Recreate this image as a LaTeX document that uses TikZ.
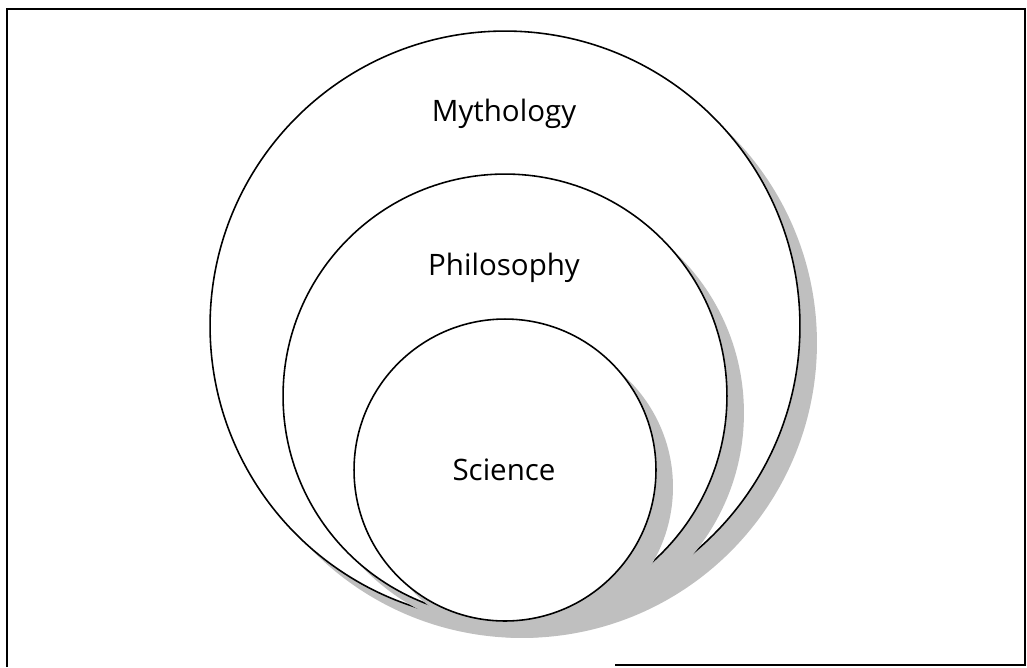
\documentclass[tikz,border=0pt]{standalone}
\usepackage{fontspec}
\setmainfont{Open Sans}
\usetikzlibrary{shadows}
\begin{document}
\begin{tikzpicture}[x=0.02cm,y=-0.02cm,
  frameline/.style={line width=1pt},
  ring/.style={circle, draw=black, line width=0.9pt, fill=white, inner sep=0pt,
    drop shadow={shadow xshift=0.34cm, shadow yshift=-0.34cm, opacity=1, fill=black!25}},
  lbl/.style={font=\fontsize{16.8}{19}\selectfont, text=black}]
\useasboundingbox (0,0) rectangle (1027,667);
% frame
\coordinate (tl) at (7,9);
\coordinate (tr) at (1025,9);
\coordinate (bl) at (7,667);
\coordinate (br) at (1025,665);
\coordinate (bm) at (615,665);
\draw[frameline] (bl) -- (tl) -- (tr) -- (br) -- (bm);
% circles
\node[ring, minimum size=11.8cm] (myth) at (505,326) {};
\node[ring, minimum size=8.88cm] (phil) at (505,396) {};
\node[ring, minimum size=6.04cm] (sci) at (505,470) {};
% labels
\node[lbl] (mythl) at (504,114) {Mythology};
\node[lbl] (phill) at (504,268) {Philosophy};
\node[lbl] (scil) at (504,470) {Science};
\end{tikzpicture}
\end{document}
